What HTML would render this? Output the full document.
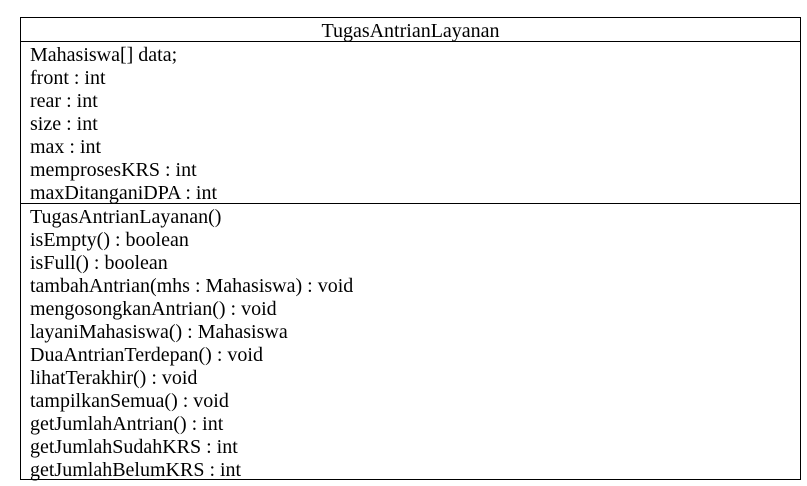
<!DOCTYPE html>
<html><head><style>
body{margin:0;width:807px;height:486px;background:#fff;position:relative;font-family:"Liberation Serif",serif;font-size:20px;color:#000;overflow:hidden}
.box{position:absolute;left:20px;top:17px;width:779px;height:461px;border:1px solid #000}
.h{position:absolute;left:20px;top:41px;width:781px;height:1px;background:#000}
.d{position:absolute;left:20px;top:203px;width:781px;height:1px;background:#000}
.t{position:absolute;left:20px;width:781px;text-align:center;top:20px;line-height:23px}
.l{position:absolute;left:30px;line-height:23px;white-space:pre}
</style></head><body>
<div class="box"></div><div class="h"></div><div class="d"></div>
<div class="t">TugasAntrianLayanan</div>
<div class="l" style="top:44px">Mahasiswa[] data;
front : int
rear : int
size : int
max : int
memprosesKRS : int
maxDitanganiDPA : int</div>
<div class="l" style="top:206px">TugasAntrianLayanan()
isEmpty() : boolean
isFull() : boolean
tambahAntrian(mhs : Mahasiswa) : void
mengosongkanAntrian() : void
layaniMahasiswa() : Mahasiswa
DuaAntrianTerdepan() : void
lihatTerakhir() : void
tampilkanSemua() : void
getJumlahAntrian() : int
getJumlahSudahKRS : int
getJumlahBelumKRS : int</div>
</body></html>
